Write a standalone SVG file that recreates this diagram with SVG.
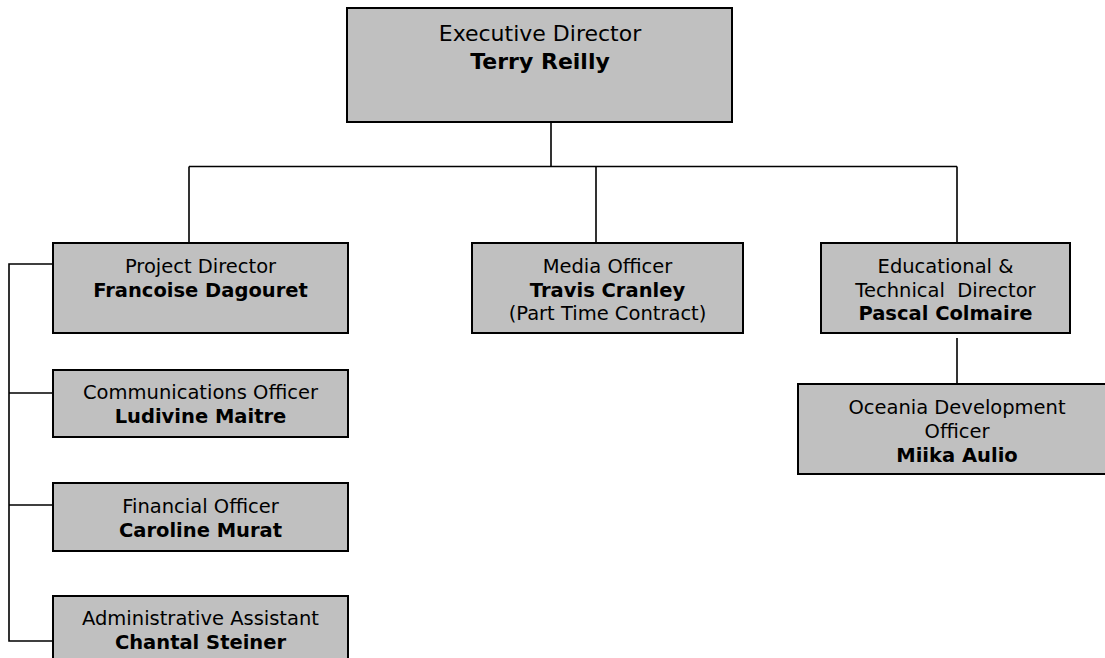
<svg xmlns="http://www.w3.org/2000/svg" width="1105" height="658" viewBox="0 0 1105 658">
<style>
.box{fill:#c0c0c0;stroke:#000;stroke-width:2}
.ln{fill:none;stroke:#000;stroke-width:1.6}
text{font-family:"DejaVu Sans",Verdana,sans-serif;font-size:19.5px;fill:#000;text-anchor:middle}
.b{font-weight:bold}
.big{font-size:22px}
</style>
<rect width="1105" height="658" fill="#fff"/>
<g id="connectors">
<path class="ln" d="M551,122 V166.5 M189,166.5 H957 M189,166.5 V243 M596,166.5 V243 M957,166.5 V243"/>
<path class="ln" d="M957,338 V384"/>
<path class="ln" d="M53,264 H9 V641 H53 M9,393 H53 M9,505 H53"/>
</g>
<g id="exec">
<rect class="box" x="347" y="8" width="385" height="114"/>
<text class="big" x="540" y="41">Executive Director</text>
<text class="big b" x="540" y="69">Terry Reilly</text>
</g>
<g id="project">
<rect class="box" x="53" y="243" width="295" height="90"/>
<text x="200.5" y="273">Project Director</text>
<text class="b" x="200.5" y="297">Francoise Dagouret</text>
</g>
<g id="media">
<rect class="box" x="472" y="243" width="271" height="90"/>
<text x="607.5" y="273">Media Officer</text>
<text class="b" x="607.5" y="297">Travis Cranley</text>
<text x="607.5" y="320">(Part Time Contract)</text>
</g>
<g id="edu">
<rect class="box" x="821" y="243" width="249" height="90"/>
<text x="945.5" y="273">Educational &amp;</text>
<text x="945.5" y="297" xml:space="preserve">Technical  Director</text>
<text class="b" x="945.5" y="320">Pascal Colmaire</text>
</g>
<g id="oceania">
<rect class="box" x="798" y="384" width="318" height="90"/>
<text x="957" y="414">Oceania Development</text>
<text x="957" y="438">Officer</text>
<text class="b" x="957" y="462">Miika Aulio</text>
</g>
<g id="comms">
<rect class="box" x="53" y="370" width="295" height="67"/>
<text x="200.5" y="399">Communications Officer</text>
<text class="b" x="200.5" y="423">Ludivine Maitre</text>
</g>
<g id="financial">
<rect class="box" x="53" y="483" width="295" height="68"/>
<text x="200.5" y="513">Financial Officer</text>
<text class="b" x="200.5" y="537">Caroline Murat</text>
</g>
<g id="admin">
<rect class="box" x="53" y="596" width="295" height="80"/>
<text x="200.5" y="625">Administrative Assistant</text>
<text class="b" x="200.5" y="649">Chantal Steiner</text>
</g>
</svg>
